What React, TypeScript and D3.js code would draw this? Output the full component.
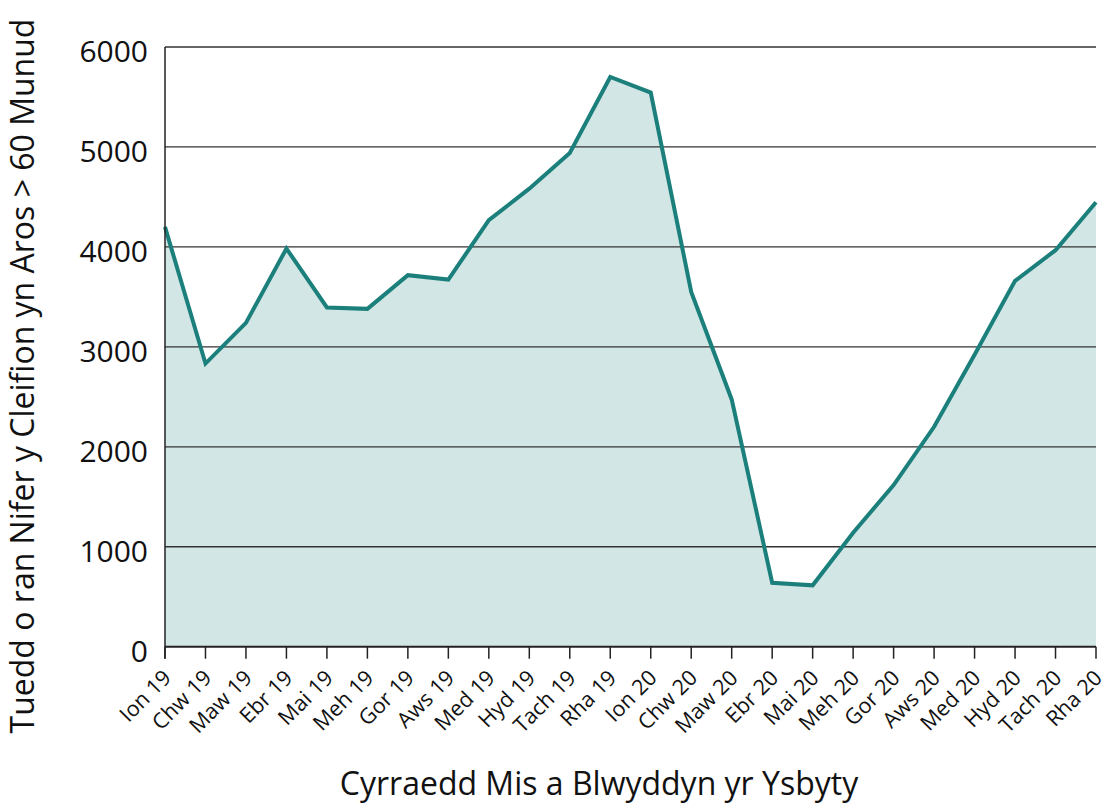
import React from "react";
import * as d3 from "d3";

const months = ["Ion 19","Chw 19","Maw 19","Ebr 19","Mai 19","Meh 19","Gor 19","Aws 19","Med 19","Hyd 19","Tach 19","Rha 19","Ion 20","Chw 20","Maw 20","Ebr 20","Mai 20","Meh 20","Gor 20","Aws 20","Med 20","Hyd 20","Tach 20","Rha 20"];
const values = [4200,2833,3240,3984,3394,3380,3717,3673,4267,4583,4940,5700,5544,3550,2474,640,614,1140,1617,2200,2920,3660,3967,4447];
const yTicks = [0,1000,2000,3000,4000,5000,6000];

const W = 1112, H = 811;
const left = 165, right = 1096, top = 47, bottom = 646.7;
const font = "'Open Sans', 'Noto Sans', sans-serif";

export default function App() {
  const x = d3.scalePoint<string>().domain(months).range([left, right]);
  const y = d3.scaleLinear().domain([0, 6000]).range([bottom, top]);
  const area = d3.area<number>().x((_, i) => x(months[i])!).y0(y(0)).y1(d => y(d));
  const line = d3.line<number>().x((_, i) => x(months[i])!).y(d => y(d));
  return (
    <svg width={W} height={H} style={{ position: "absolute", left: 0, top: 0, background: "#fff" }}>
      <path d={area(values)!} fill="#d2e6e5" />
      {yTicks.filter(t => t > 0).map(t => (
        <line key={t} x1={left} x2={right} y1={y(t)} y2={y(t)} stroke="#333" strokeWidth={1.3} />
      ))}
      <path d={line(values)!} fill="none" stroke="#1b7f7b" strokeWidth={4} strokeLinejoin="miter" />
      <line x1={left} x2={left} y1={top} y2={bottom + 12} stroke="#222" strokeWidth={1.5} />
      <line x1={left} x2={right} y1={bottom} y2={bottom} stroke="#222" strokeWidth={2} />
      {months.map(m => (
        <line key={m} x1={x(m)} x2={x(m)} y1={bottom} y2={bottom + 12} stroke="#222" strokeWidth={1.5} />
      ))}
      {yTicks.map(t => (
        <text key={t} x={148} y={y(t) + 4} dy="0.36em" textAnchor="end" fontFamily={font} fontSize={30} fill="#111">{t}</text>
      ))}
      {months.map(m => (
        <text key={m} transform={`translate(${x(m)! + 2},${bottom + 27}) rotate(-45)`} textAnchor="end" dy="0.36em" fontFamily={font} fontSize={21.5} fill="#111">{m}</text>
      ))}
      <text x={599} y={795} textAnchor="middle" fontFamily={font} fontSize={32} fill="#111">Cyrraedd Mis a Blwyddyn yr Ysbyty</text>
      <text transform={`translate(34,376) rotate(-90)`} textAnchor="middle" fontFamily={font} fontSize={32} fill="#111">Tuedd o ran Nifer y Cleifion yn Aros &gt; 60 Munud</text>
    </svg>
  );
}
